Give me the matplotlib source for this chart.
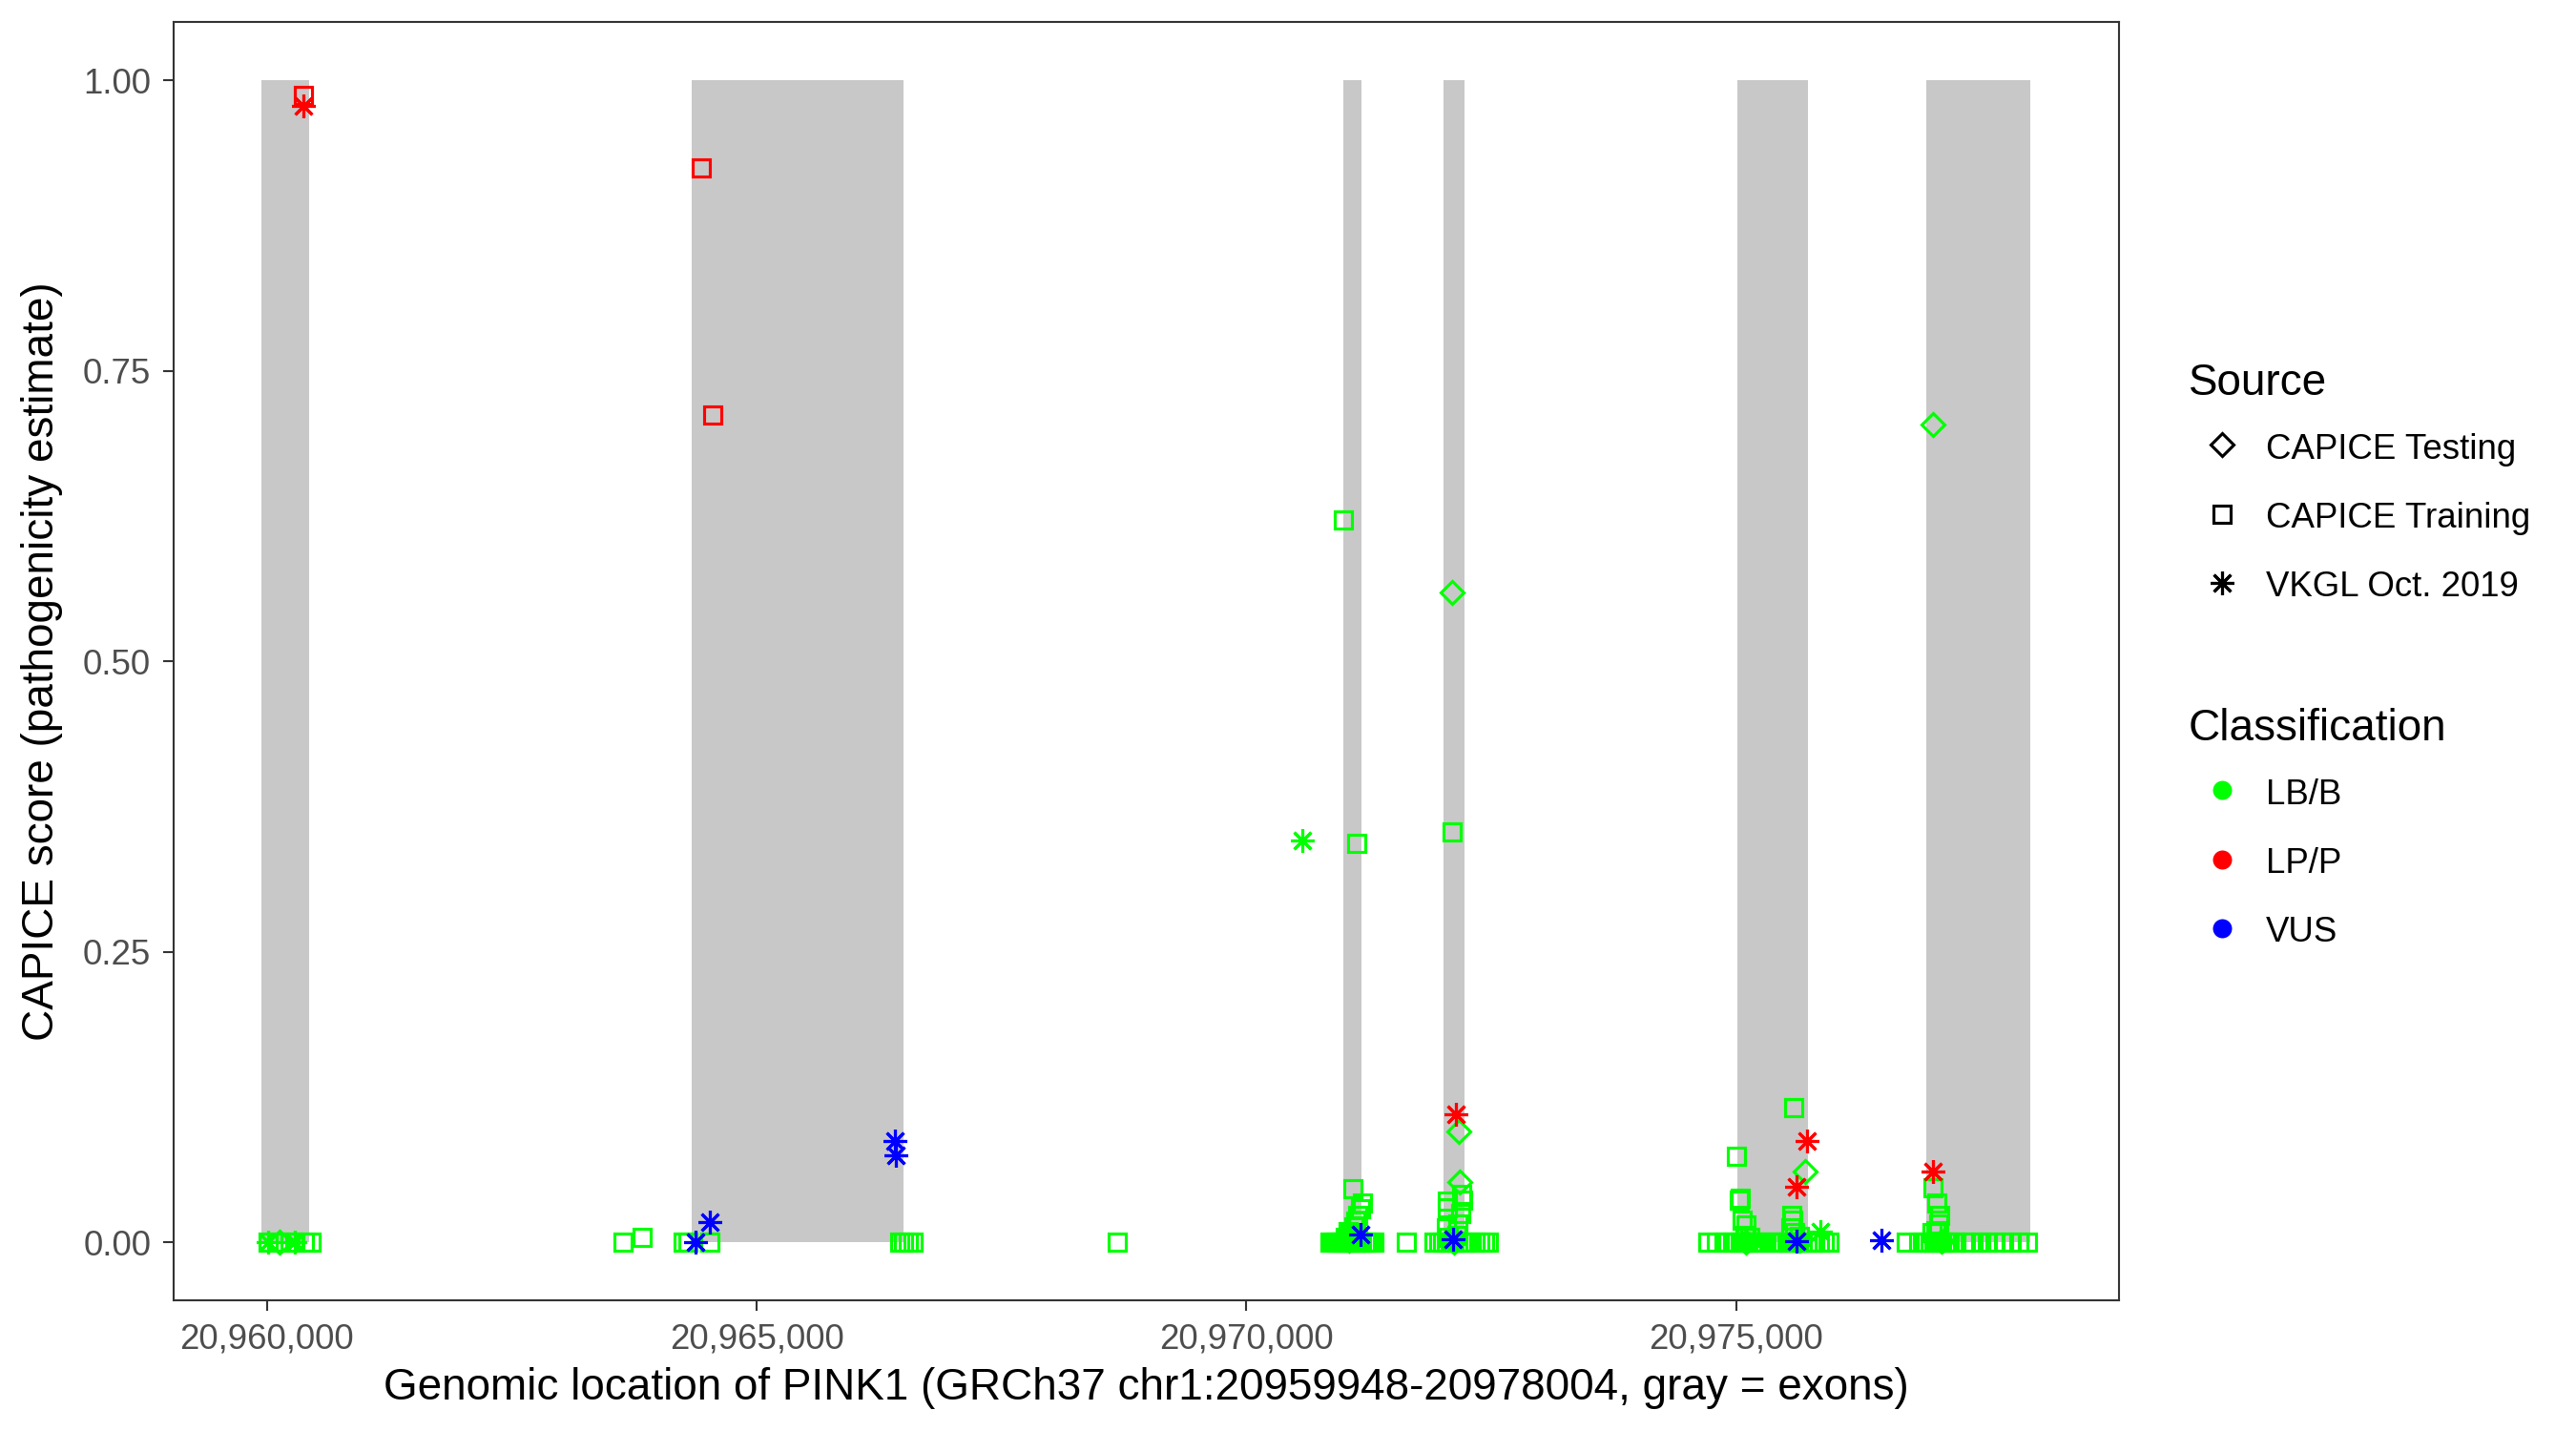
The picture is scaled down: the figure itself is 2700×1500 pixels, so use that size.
import matplotlib
matplotlib.use("Agg")
import matplotlib.pyplot as plt
from matplotlib.lines import Line2D
from matplotlib.legend_handler import HandlerLine2D
from matplotlib.ticker import FuncFormatter, FixedLocator
import numpy as np

plt.rcParams['font.family'] = ['Liberation Sans', 'DejaVu Sans']

# ---------------- data ----------------
gene_start = 20959948
gene_end = 20978004

exon_starts = [20959948, 20964335, 20970993, 20972015, 20975012, 20976940]
exon_ends   = [20960429, 20966496, 20971178, 20972229, 20975732, 20978004]

# CAPICE Training (squares)
train_pos = [
    20960012, 20960130, 20960233, 20960284, 20960386, 20960454, 20960371,
    20963634, 20963828, 20964250, 20964300, 20964520, 20964433, 20964551,
    20966464, 20966503, 20966552, 20966600, 20968679,
    20970991, 20971126, 20971083, 20971181, 20971165, 20971133, 20971120, 20971100,
    20970850, 20970880, 20970910, 20970940, 20970970, 20971000, 20971030, 20971060,
    20971090, 20971120, 20971150, 20971180, 20971210, 20971240, 20971270, 20971300,
    20971010, 20971070, 20971140, 20971040,
    20971636,
    20972099, 20972200, 20972205, 20972050, 20972055, 20972185, 20972160, 20972040,
    20971920, 20971960, 20972000, 20972040, 20972080, 20972120, 20972160, 20972200,
    20972240, 20972280, 20972330, 20972380, 20972430, 20972470, 20972150, 20972060,
    20975587, 20975006, 20975044, 20975030, 20975060, 20975100, 20975570, 20975580, 20975560,
    20974715, 20974800,
    20974880, 20974920, 20974960, 20975000, 20975040, 20975080, 20975120, 20975160,
    20975200, 20975240, 20975275,
    20975360, 20975400, 20975440, 20975480, 20975520, 20975560, 20975600, 20975640,
    20975680, 20975720, 20975760, 20975800, 20975850, 20975900, 20975950,
    20975090, 20975140, 20975600, 20975650,
    20977015, 20977047, 20977076, 20977066, 20977040, 20977000,
    20976738,
    20976860, 20976900, 20976940, 20976980, 20977020, 20977060, 20977100, 20977140,
    20977180, 20977210,
    20977242, 20977339, 20977420, 20977501, 20977566, 20977647, 20977728, 20977809,
    20977890, 20977971,
]
train_score = [
    0.0, 0.0, 0.0, 0.0, 0.0, 0.0, 0.987,
    0.0, 0.004, 0.0, 0.0, 0.0, 0.925, 0.712,
    0.0, 0.0, 0.0, 0.0, 0.0,
    0.622, 0.343, 0.046, 0.034, 0.029, 0.023, 0.018, 0.013,
    0.0, 0.0, 0.0, 0.0, 0.0, 0.0, 0.0, 0.0,
    0.0, 0.0, 0.0, 0.0, 0.0, 0.0, 0.0, 0.0,
    0.004, 0.007, 0.005, 0.009,
    0.0,
    0.353, 0.041, 0.036, 0.035, 0.030, 0.025, 0.016, 0.012,
    0.0, 0.0, 0.0, 0.0, 0.0, 0.0, 0.0, 0.0,
    0.0, 0.0, 0.0, 0.0, 0.0, 0.0, 0.006, 0.004,
    0.116, 0.074, 0.0375, 0.036, 0.019, 0.015, 0.023, 0.019, 0.012,
    0.0, 0.0,
    0.0, 0.0, 0.0, 0.0, 0.0, 0.0, 0.0, 0.0,
    0.0, 0.0, 0.0,
    0.0, 0.0, 0.0, 0.0, 0.0, 0.0, 0.0, 0.0,
    0.0, 0.0, 0.0, 0.0, 0.0, 0.0, 0.0,
    0.006, 0.004, 0.008, 0.005,
    0.047, 0.034, 0.023, 0.016, 0.010, 0.008,
    0.0,
    0.0, 0.0, 0.0, 0.0, 0.0, 0.0, 0.0, 0.0,
    0.0, 0.0,
    0.0, 0.0, 0.0, 0.0, 0.0, 0.0, 0.0, 0.0,
    0.0, 0.0,
]
train_class = ['LB/B'] * len(train_pos)
for i, p in enumerate(train_pos):
    if p in (20960371, 20964433, 20964551) and train_score[i] > 0.5:
        train_class[i] = 'LP/P'

# CAPICE Testing (diamonds)
test_pos   = [20960130, 20971050, 20972099, 20972167, 20972180, 20972120,
              20975701, 20975100, 20975650, 20977013, 20977100]
test_score = [0.0, 0.002, 0.559, 0.095, 0.052, 0.0,
              0.061, 0.0, 0.002, 0.704, 0.001]
test_class = ['LB/B'] * len(test_pos)

# VKGL Oct. 2019 (asterisks)
vkgl_pos   = [20960012, 20960284, 20960371, 20964374, 20964527, 20966415, 20966425,
              20970572, 20971165, 20972141, 20972109,
              20975724, 20975613, 20975862, 20975619, 20976480, 20977015]
vkgl_score = [0.0, 0.0, 0.978, 0.0, 0.017, 0.087, 0.075,
              0.346, 0.0066, 0.110, 0.0025,
              0.087, 0.048, 0.009, 0.001, 0.0016, 0.061]
vkgl_class = ['LB/B', 'LB/B', 'LP/P', 'VUS', 'VUS', 'VUS', 'VUS',
              'LB/B', 'VUS', 'LP/P', 'VUS',
              'LP/P', 'LP/P', 'LB/B', 'VUS', 'VUS', 'LP/P']

class_names = ['LB/B', 'LP/P', 'VUS']
class_colors = {'LB/B': '#00FF00', 'LP/P': '#FF0000', 'VUS': '#0000FF'}
source_names = ['CAPICE Testing', 'CAPICE Training', 'VKGL Oct. 2019']

x_ticks = [20960000, 20965000, 20970000, 20975000]
y_ticks = [0.0, 0.25, 0.50, 0.75, 1.00]

# ---------------- figure ----------------
fig = plt.figure(figsize=(9, 5), dpi=300)
ax = fig.add_axes([181.7 / 2700, 1 - 1363 / 1500, (2220.7 - 181.7) / 2700, (1363 - 23.3) / 1500])

starts = np.array(exon_starts)
ends = np.array(exon_ends)
ax.bar(starts, np.ones(len(starts)), width=ends - starts, bottom=0, align='edge',
       color='#C8C8C8', linewidth=0, zorder=1)

marker_style = {
    'CAPICE Training': dict(marker='s', ms=4.5),
    'CAPICE Testing': dict(marker='D', ms=4.2),
    'VKGL Oct. 2019': dict(marker=(8, 2, 0), ms=6.0),
}

def draw(pos, score, cls, source, z):
    pos = np.array(pos); score = np.array(score); cls = np.array(cls)
    for c in class_names:
        m = cls == c
        if m.any():
            st = marker_style[source]
            ax.plot(pos[m], score[m], ls='none', marker=st['marker'], ms=st['ms'],
                    mfc='none', mec=class_colors[c], mew=0.75, zorder=z + class_names.index(c) * 0.1)

draw(train_pos, train_score, train_class, 'CAPICE Training', 3)
draw(test_pos, test_score, test_class, 'CAPICE Testing', 4)
draw(vkgl_pos, vkgl_score, vkgl_class, 'VKGL Oct. 2019', 5)

rng = gene_end - gene_start
ax.set_xlim(gene_start - 0.05 * rng, gene_end + 0.05 * rng)
ax.set_ylim(-0.05, 1.05)
ax.xaxis.set_major_locator(FixedLocator(x_ticks))
ax.yaxis.set_major_locator(FixedLocator(y_ticks))
ax.xaxis.set_major_formatter(FuncFormatter(lambda v, p: f"{int(round(v)):,}"))
ax.yaxis.set_major_formatter(FuncFormatter(lambda v, p: f"{v:.2f}"))
ax.tick_params(axis='both', length=2.75, width=0.5, color='#333333',
               labelsize=8.8, labelcolor='#4D4D4D', pad=2.9)
for s in ax.spines.values():
    s.set_color('#333333')
    s.set_linewidth(0.5)

ax.set_xlabel('Genomic location of PINK1 (GRCh37 chr1:20959948-20978004, gray = exons)',
              fontsize=11, color='black', labelpad=2.75)
ax.set_ylabel('CAPICE score (pathogenicity estimate)', fontsize=11, color='black', labelpad=5)

# ---------------- legends ----------------
class ShiftedLineHandler(HandlerLine2D):
    """Legend key handler that centres the marker on the label text."""
    def __init__(self, shift=1.2, **kw):
        super().__init__(**kw)
        self.shift = shift

    def create_artists(self, legend, orig_handle, xdescent, ydescent, width, height,
                       fontsize, trans):
        arts = super().create_artists(legend, orig_handle, xdescent, ydescent, width,
                                      height, fontsize, trans)
        for a in arts:
            a.set_ydata(np.asarray(a.get_ydata()) - self.shift)
        return arts

src_handles = [
    Line2D([], [], ls='none', marker='D', ms=4.2, mfc='none', mec='black', mew=0.75),
    Line2D([], [], ls='none', marker='s', ms=4.5, mfc='none', mec='black', mew=0.75),
    Line2D([], [], ls='none', marker=(8, 2, 0), ms=6.0, mfc='none', mec='black', mew=0.75),
]
cls_handles = [
    Line2D([], [], ls='none', marker='o', ms=4.8, mfc=class_colors[c], mec=class_colors[c], mew=0)
    for c in class_names
]
common = dict(frameon=False, fontsize=8.8, title_fontsize=11, loc='upper left',
              handlelength=1.9, handleheight=1.9, handletextpad=0.3, labelspacing=0.49,
              borderpad=0, borderaxespad=0, alignment='left', numpoints=1,
              handler_map={Line2D: ShiftedLineHandler(shift=1.2)})
leg1 = fig.legend(src_handles, source_names, title='Source',
                  bbox_to_anchor=(2294 / 2700, 1 - 380 / 1500), **common)
leg2 = fig.legend(cls_handles, class_names, title='Classification',
                  bbox_to_anchor=(2294 / 2700, 1 - 742 / 1500), **common)

fig.savefig('out.png', dpi=300)
